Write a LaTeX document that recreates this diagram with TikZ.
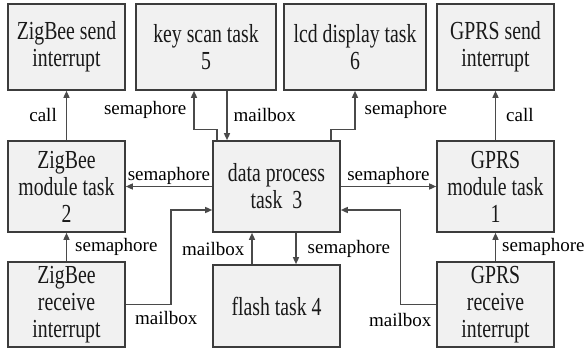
\documentclass[tikz,border=0pt]{standalone}
\usepackage{fontspec}
\setmainfont{Liberation Serif}
\newfontfamily\boxfont[FakeStretch=0.76]{Liberation Serif}
\usetikzlibrary{arrows.meta}
\definecolor{taskEdge}{HTML}{3C3C3C}
\definecolor{taskFill}{HTML}{F1F1F1}
\definecolor{msgLine}{HTML}{4A4A4A}

\begin{document}
\begin{tikzpicture}[x=1pt, y=-1pt,
  task/.style={draw=taskEdge, line width=1.6pt, fill=taskFill, align=center,
    font=\boxfont\fontsize{26}{27}\selectfont, text=black!90, inner sep=0pt},
  msg/.style={-{Triangle[length=7pt, width=6pt]}, draw=msgLine, line width=1.4pt},
  lbl/.style={font=\fontsize{19}{22}\selectfont, inner sep=1pt, text=black}]
  \useasboundingbox (0,0) rectangle (588,350);

  % top row
  \node[task, minimum width=117pt, minimum height=86pt] (zsend) at (66.5,47) {ZigBee send\\interrupt};
  \node[task, minimum width=140pt, minimum height=86pt] (keyscan) at (206,47) {key scan task\\5};
  \node[task, minimum width=142pt, minimum height=86pt] (lcd) at (355,47) {lcd display task\\6};
  \node[task, minimum width=117pt, minimum height=86pt] (gsend) at (495.5,47) {GPRS send\\interrupt};

  % middle row
  \node[task, minimum width=117pt, minimum height=91pt] (zmod) at (66.5,186.5) {ZigBee\\module task\\2};
  \node[task, minimum width=127pt, minimum height=91pt] (dproc) at (276.5,186.5) {data process\\task~~3};
  \node[task, minimum width=117pt, minimum height=91pt] (gmod) at (495.5,186.5) {GPRS\\module task\\1};

  % bottom row
  \node[task, minimum width=117pt, minimum height=85pt] (zrecv) at (66.5,304.5) {ZigBee\\receive\\interrupt};
  \node[task, minimum width=127pt, minimum height=82pt] (flash) at (276.5,306) {flash task 4};
  \node[task, minimum width=117pt, minimum height=85pt] (grecv) at (495.5,304.5) {GPRS\\receive\\interrupt};

  % messages
  \draw[msg] (zmod.north) -- node[lbl, left=8pt] {call} (zsend.south);
  \draw[msg] (gmod.north) -- node[lbl, right=9pt] {call} (gsend.south);
  \draw[msg] ([xshift=-59.5pt]dproc.north) -- ++(0,-11) -| node[lbl, pos=0.75, left=6pt] {semaphore} ([xshift=-12pt]keyscan.south);
  \draw[msg] ([xshift=21pt]keyscan.south) -- node[lbl, right=5pt] {mailbox} ([xshift=21pt]keyscan.south |- dproc.north);
  \draw[msg] ([xshift=54.5pt]dproc.north) -- ++(0,-11) -| node[lbl, pos=0.75, right=8pt] {semaphore} (lcd.south);
  \draw[msg] (dproc.west) -- node[lbl, above=0pt] {semaphore} (zmod.east);
  \draw[msg] (dproc.east) -- node[lbl, above=0pt] {semaphore} (gmod.west);
  \draw[msg] (zrecv.north) -- node[lbl, right=7pt] {semaphore} (zmod.south);
  \draw[msg] (grecv.north) -- node[lbl, right=5pt] {semaphore} (gmod.south);
  \draw[msg] ([xshift=-24.5pt]flash.north) -- node[lbl, left=6pt] {mailbox} ([xshift=-24.5pt]flash.north |- dproc.south);
  \draw[msg] ([xshift=19.5pt]dproc.south) -- node[lbl, right=10pt] {semaphore} ([xshift=19.5pt]dproc.south |- flash.north);
  \draw[msg] (zrecv.east) -- node[lbl, pos=0.9, below=5pt] {mailbox} ++(45,0) |- ([yshift=-23.5pt]dproc.west);
  \draw[msg] (grecv.west) -- node[lbl, pos=1, below=7pt] {mailbox} ++(-36,0) |- ([yshift=-23.5pt]dproc.east);
\end{tikzpicture}
\end{document}
